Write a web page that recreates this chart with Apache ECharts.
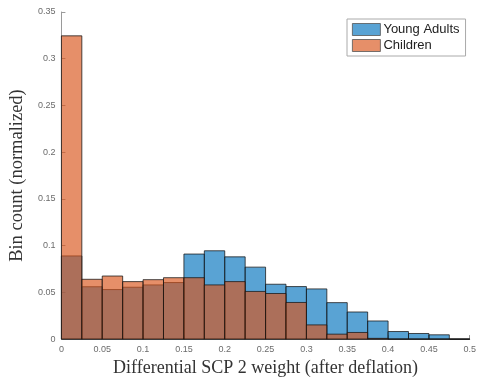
<!DOCTYPE html>
<html><head><meta charset="utf-8">
<script src="https://cdn.jsdelivr.net/npm/echarts@6/dist/echarts.min.js"></script>
<style>html,body{margin:0;padding:0;background:#fff}#c{width:479px;height:382px}</style>
</head><body><div id="c"></div>
<script>
// bin start positions (width 0.025)
const binStarts = [0, 0.025, 0.05, 0.075, 0.1, 0.125, 0.15, 0.175, 0.2, 0.225,
                   0.25, 0.275, 0.3, 0.325, 0.35, 0.375, 0.4, 0.425, 0.45, 0.475];
const binWidth = 0.025;
const youngAdults = [0.089, 0.056, 0.053, 0.0555, 0.058, 0.0605, 0.091, 0.0945, 0.088, 0.077,
                     0.0587, 0.0562, 0.0537, 0.039, 0.029, 0.0194, 0.0081, 0.006, 0.0046, 0];
const children    = [0.3245, 0.064, 0.0675, 0.0615, 0.0636, 0.0657, 0.0657, 0.058, 0.0615, 0.051,
                     0.0488, 0.0392, 0.0152, 0.0053, 0.0071, 0.0008, 0, 0, 0, 0];
const xTicks = [0, 0.05, 0.1, 0.15, 0.2, 0.25, 0.3, 0.35, 0.4, 0.45, 0.5];
const yTicks = [0, 0.05, 0.1, 0.15, 0.2, 0.25, 0.3, 0.35];
const seriesNames = ['Young Adults', 'Children'];

const chart = echarts.init(document.getElementById('c'), null, {renderer: 'canvas'});
function bars(vals, color) {
  return {
    type: 'custom',
    renderItem: function (params, api) {
      const s = api.value(0), v = api.value(1);
      const p0 = api.coord([s, 0]);
      const p1 = api.coord([s + binWidth, v]);
      return {
        type: 'rect',
        shape: {x: p0[0], y: p1[1], width: p1[0] - p0[0], height: p0[1] - p1[1]},
        style: {fill: color, stroke: 'rgba(20,20,20,0.75)', lineWidth: 1}
      };
    },
    encode: {x: 0, y: 1},
    data: binStarts.map((s, i) => [s, vals[i]])
  };
}
const axisLabelStyle = {color: '#6b6b6b', fontSize: 9, fontFamily: 'Liberation Sans'};
chart.setOption({
  animation: false,
  grid: {left: 57, right: 5, top: 12, bottom: 40, containLabel: false},
  legend: {
    data: [
      {name: seriesNames[0], itemStyle: {color: 'rgba(0,114,189,0.65)', borderColor: '#555', borderWidth: 0.8}},
      {name: seriesNames[1], itemStyle: {color: 'rgba(217,83,25,0.65)', borderColor: '#555', borderWidth: 0.8}}
    ],
    orient: 'vertical', left: 347, top: 19, itemWidth: 28, itemHeight: 12, itemGap: 3,
    icon: 'rect', padding: [4, 6, 4, 5], borderColor: '#aaa', borderWidth: 1, backgroundColor: '#fff',
    textStyle: {fontSize: 13, fontFamily: 'Liberation Sans', color: '#222', padding: [0, 0, 0, -2]}
  },
  xAxis: {
    type: 'value', min: 0, max: 0.5, interval: 0.05,
    name: 'Differential SCP 2 weight (after deflation)', nameLocation: 'middle', nameGap: 17,
    nameTextStyle: {fontFamily: 'Liberation Serif', fontSize: 18, color: '#333'},
    axisLine: {lineStyle: {color: '#9a9a9a'}},
    axisTick: {inside: true, length: 4, lineStyle: {color: '#9a9a9a'}},
    axisLabel: Object.assign({margin: 6, formatter: v => xTicks.includes(+v.toFixed(3)) ? String(+v.toFixed(3)) : ''}, axisLabelStyle),
    splitLine: {show: false}
  },
  yAxis: {
    type: 'value', min: 0, max: 0.35, interval: 0.05,
    name: 'Bin count (normalized)', nameLocation: 'middle', nameGap: 20,
    nameTextStyle: {fontFamily: 'Liberation Serif', fontSize: 18.5, color: '#333'},
    axisLine: {show: true, lineStyle: {color: '#9a9a9a'}},
    axisTick: {show: true, inside: true, length: 4, lineStyle: {color: '#9a9a9a'}},
    axisLabel: Object.assign({margin: 6, formatter: v => yTicks.includes(+v.toFixed(3)) ? String(+v.toFixed(3)) : ''}, axisLabelStyle),
    splitLine: {show: false}
  },
  series: [
    Object.assign({name: seriesNames[0]}, bars(youngAdults, 'rgba(0,114,189,0.65)')),
    Object.assign({name: seriesNames[1]}, bars(children, 'rgba(217,83,25,0.65)'))
  ]
});
</script></body></html>
